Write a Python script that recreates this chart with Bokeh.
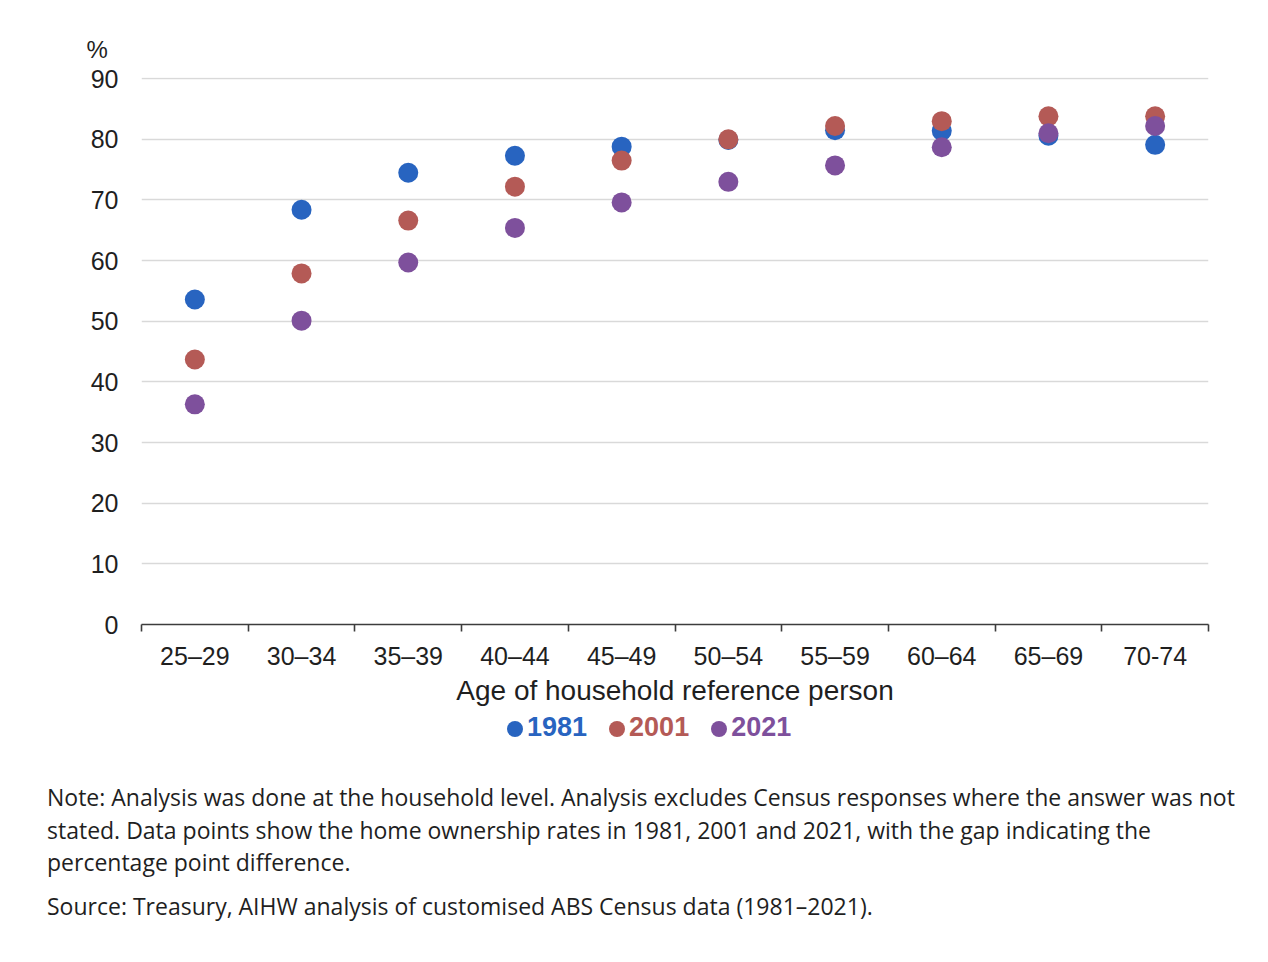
from bokeh.plotting import figure
from bokeh.models import (Range1d, LinearAxis, FixedTicker, Title, Div)
from bokeh.layouts import column
from bokeh.embed import file_html
from bokeh.resources import INLINE

# ---- data ----
age_groups = ["25–29", "30–34", "35–39", "40–44", "45–49",
              "50–54", "55–59", "60–64", "65–69", "70-74"]
rate_1981 = [53.6, 68.4, 74.5, 77.3, 78.8, 79.9, 81.5, 81.4, 80.6, 79.1]
rate_2001 = [43.7, 57.9, 66.6, 72.2, 76.5, 80.0, 82.2, 83.0, 83.8, 83.8]
rate_2021 = [36.3, 50.1, 59.7, 65.4, 69.6, 73.0, 75.7, 78.7, 81.0, 82.2]
y_ticks = [0, 10, 20, 30, 40, 50, 60, 70, 80, 90]
series_names = ["1981", "2001", "2021"]
series_colors = ["#2864c0", "#b45a56", "#7e509c"]

FONT = "Liberation Sans"
TXT = "#1f1f1f"

n = len(age_groups)
idx = list(range(n))                      # category index positions
bounds = [i - 0.5 for i in range(n + 1)]  # category boundaries

p = figure(x_range=Range1d(bounds[0], bounds[-1]),
           y_range=Range1d(y_ticks[0], y_ticks[-1] + 0.2),
           width=1230, height=708, output_backend="svg", toolbar_location=None,
           x_axis_location=None,
           min_border_left=141, min_border_top=77, min_border_right=22,
           min_border_bottom=84)
p.outline_line_color = None
p.background_fill_color = "white"
p.border_fill_color = "white"

# y axis
p.yaxis.ticker = FixedTicker(ticks=y_ticks)
p.yaxis.axis_line_color = None
p.yaxis.major_tick_line_color = None
p.yaxis.minor_tick_line_color = None
p.yaxis.major_tick_out = 0
p.yaxis.major_tick_in = 0
p.yaxis.major_label_standoff = 23
p.yaxis.major_label_text_font = FONT
p.yaxis.major_label_text_font_size = "25px"
p.yaxis.major_label_text_color = TXT

p.xgrid.grid_line_color = None
p.ygrid.grid_line_color = "#d9d9d9"
p.ygrid.grid_line_width = 1.5

# category axis: labels at category centres, ticks at category boundaries
cat_axis = LinearAxis(ticker=FixedTicker(ticks=idx, minor_ticks=bounds),
                      major_label_overrides={i: g for i, g in zip(idx, age_groups)},
                      axis_line_color="#3c3c3c", axis_line_width=1.6,
                      major_tick_line_color=None,
                      major_tick_out=0, major_tick_in=0,
                      minor_tick_line_color="#3c3c3c", minor_tick_line_width=1.6,
                      minor_tick_out=7, minor_tick_in=0,
                      major_label_standoff=10,
                      major_label_text_font=FONT,
                      major_label_text_font_size="25px",
                      major_label_text_color=TXT,
                      axis_label="Age of household reference person",
                      axis_label_text_font=FONT,
                      axis_label_text_font_size="28px",
                      axis_label_text_font_style="normal",
                      axis_label_text_color=TXT,
                      axis_label_standoff=2)
p.add_layout(cat_axis, "below")

p.add_layout(Title(text="%", align="left", offset=-55, text_font=FONT,
                   text_font_size="24px", text_font_style="normal",
                   text_color=TXT, standoff=30), "above")

for vals, col in zip([rate_1981, rate_2001, rate_2021], series_colors):
    p.scatter(x=idx, y=vals, size=20, fill_color=col, line_color=None)

# legend (coloured labels)
items = []
for name, col in zip(series_names, series_colors):
    items.append(
        f'<span style="display:inline-block;width:16px;height:16px;border-radius:50%;'
        f'background:{col};vertical-align:-1px;margin-right:4px"></span>'
        f'<span style="color:{col}">{name}</span>')
legend_html = ('<div style="font-family:\'Liberation Sans\';font-size:27px;font-weight:bold;'
               'line-height:30px;padding-top:4px;padding-left:507px;white-space:nowrap">'
               + '<span style="display:inline-block;width:22px"></span>'.join(items) + '</div>')
legend_div = Div(text=legend_html, width=1230, height=40, margin=(0, 0, 0, 0))

note_lines = ["Note: Analysis was done at the household level. Analysis excludes Census responses where the answer was not",
              "stated. Data points show the home ownership rates in 1981, 2001 and 2021, with the gap indicating the",
              "percentage point difference."]
source_line = "Source: Treasury, AIHW analysis of customised ABS Census data (1981–2021)."
notes_html = ('<div style="font-family:\'Open Sans\';font-size:23px;color:#1f1f1f;line-height:32.5px;'
              'padding-top:33px;padding-left:47px;white-space:nowrap">'
              + "<br>".join(note_lines)
              + f'<div style="margin-top:11.5px">{source_line}</div></div>')
notes_div = Div(text=notes_html, width=1250, height=180, margin=(0, 0, 0, 0))

layout = column(p, legend_div, notes_div, spacing=0)
open("out.html", "w").write(file_html(layout, INLINE))
